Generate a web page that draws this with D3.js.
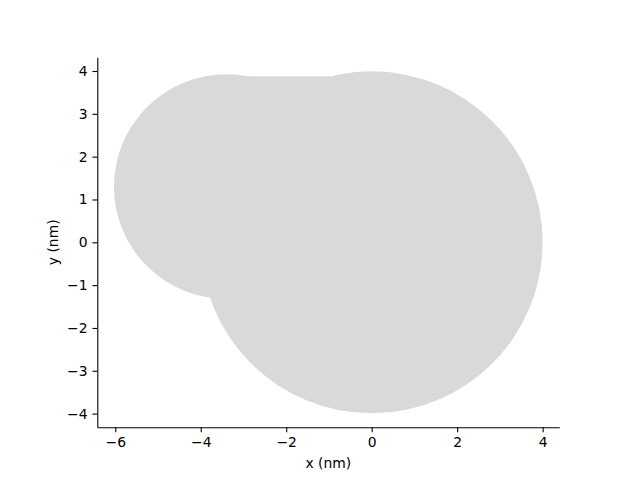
<!DOCTYPE html>
<html>
<head>
<meta charset="utf-8">
<script src="https://cdn.jsdelivr.net/npm/d3@7"></script>
<style>
  body { margin: 0; background: #fff; }
  text { font-family: "DejaVu Sans", sans-serif; }
</style>
</head>
<body>
<div id="chart"></div>
<script>
// shape pieces (nm)
const circleCenters = [[0, 0], [-3.4, 1.3]];
const circleRadii = [4.0, 2.63];
const bridge = [[-2.92, 3.88], [-0.97, 3.88], [-0.97, 0], [-2.92, 0]];

const xDomain = [-6.42, 4.39];
const yDomain = [-4.32, 4.32];
const xTicks = [-6, -4, -2, 0, 2, 4];
const yTicks = [-4, -3, -2, -1, 0, 1, 2, 3, 4];

const width = 640, height = 480;
const box = { left: 97.3, right: 559.3, top: 57.3, bottom: 427.3 };
const fill = '#d9d9d9';

const svg = d3.select('#chart')
  .append('svg')
  .attr('width', width)
  .attr('height', height);

const x = d3.scaleLinear().domain(xDomain).range([box.left, box.right]);
const y = d3.scaleLinear().domain(yDomain).range([box.bottom, box.top]);
const k = x(1) - x(0);

// filled circles
svg.selectAll('circle.piece')
  .data(circleCenters)
  .enter()
  .append('circle')
  .attr('class', 'piece')
  .attr('cx', d => x(d[0]))
  .attr('cy', d => y(d[1]))
  .attr('r', (d, i) => circleRadii[i] * k)
  .attr('fill', fill);

// bridge between the two circles
svg.append('path')
  .attr('d', d3.line().x(d => x(d[0])).y(d => y(d[1]))(bridge) + 'Z')
  .attr('fill', fill);

const fmt = d => d < 0 ? '\u2212' + Math.abs(d) : String(d);

const xAxis = svg.append('g')
  .attr('transform', `translate(0,${box.bottom})`)
  .call(d3.axisBottom(x).tickValues(xTicks).tickFormat(fmt)
    .tickSize(4.86).tickSizeOuter(0).tickPadding(4.86));

const yAxis = svg.append('g')
  .attr('transform', `translate(${box.left},0)`)
  .call(d3.axisLeft(y).tickValues(yTicks).tickFormat(fmt)
    .tickSize(4.86).tickSizeOuter(0).tickPadding(4.86));

[xAxis, yAxis].forEach(g => {
  g.selectAll('path, line').attr('stroke', '#000').attr('stroke-width', 1.1);
  g.selectAll('text').attr('font-size', '13.9px').attr('fill', '#000')
    .attr('font-family', '"DejaVu Sans", sans-serif');
});

svg.append('text')
  .attr('x', (box.left + box.right) / 2)
  .attr('y', 468)
  .attr('text-anchor', 'middle')
  .attr('font-size', '13.9px')
  .text('x (nm)');

svg.append('text')
  .attr('transform', `translate(53,${(box.top + box.bottom) / 2}) rotate(-90)`)
  .attr('text-anchor', 'middle')
  .attr('dominant-baseline', 'central')
  .attr('font-size', '13.9px')
  .text('y (nm)');
</script>
</body>
</html>
